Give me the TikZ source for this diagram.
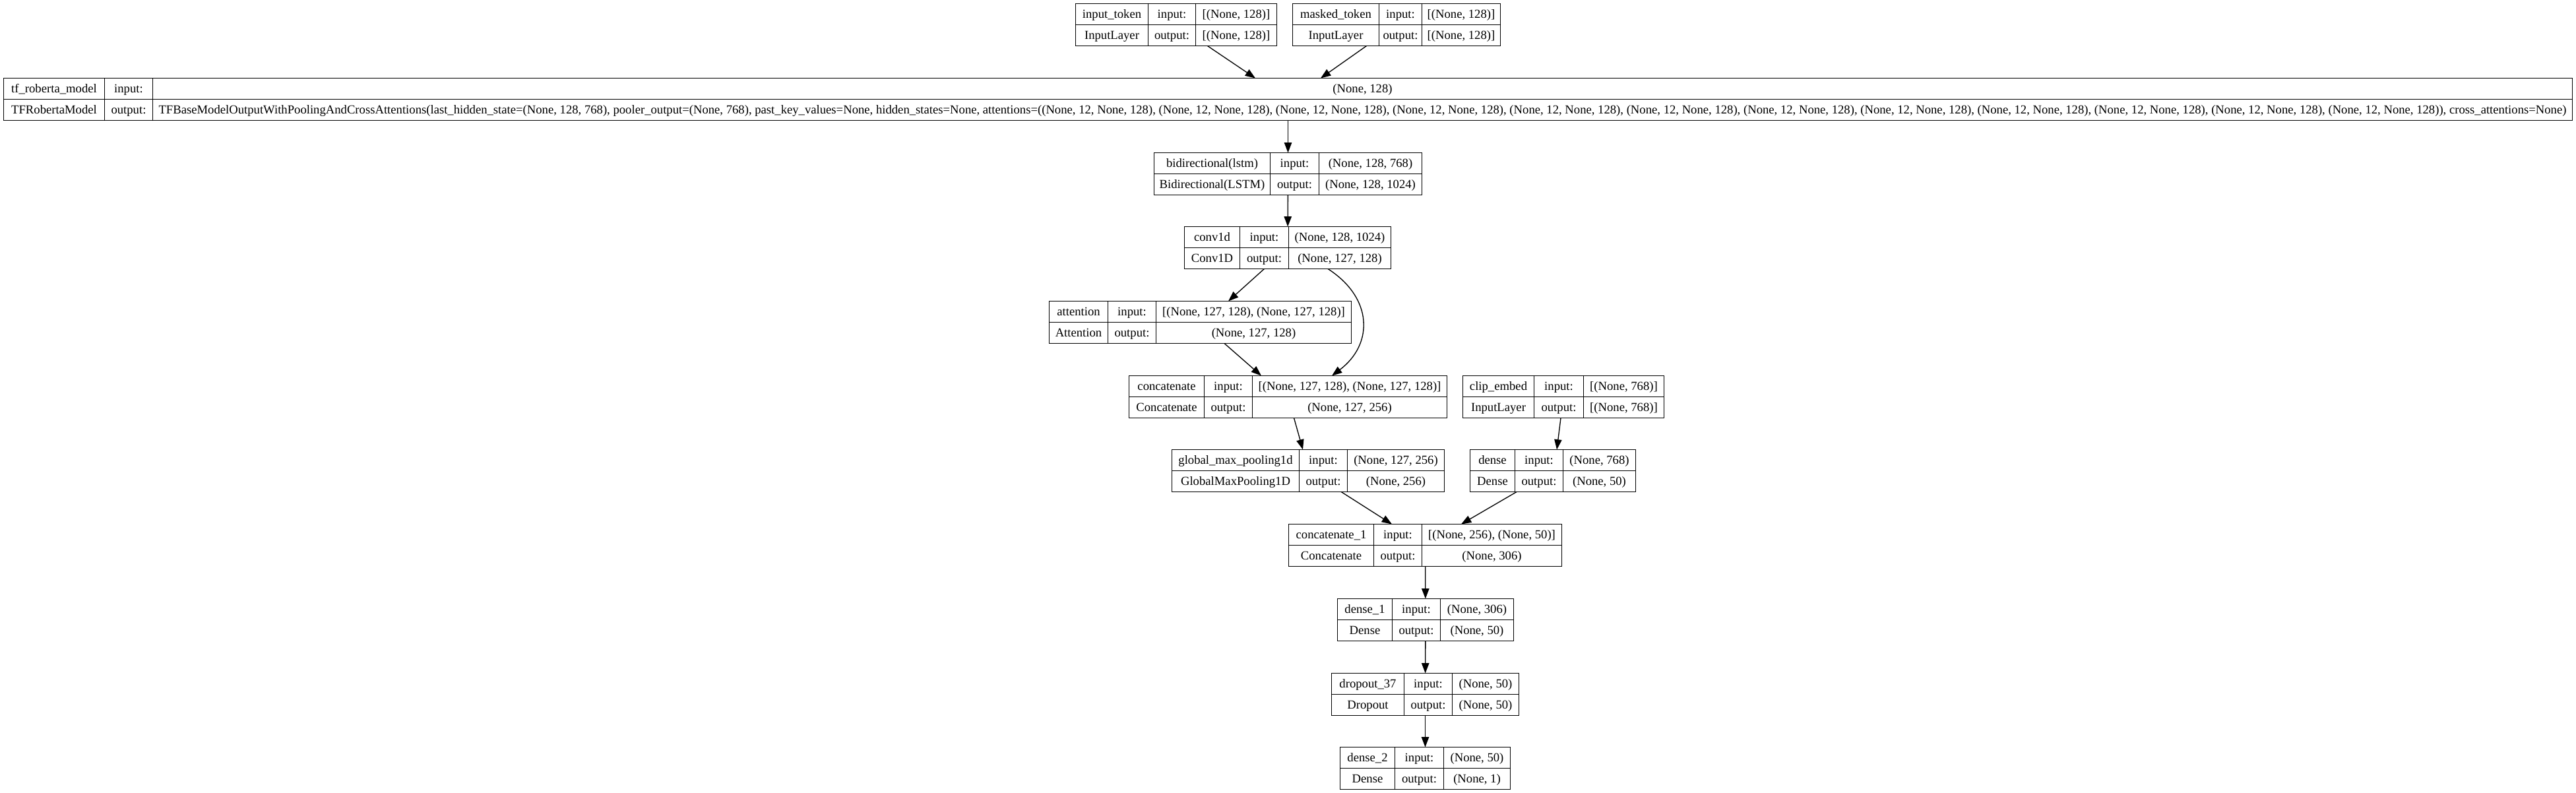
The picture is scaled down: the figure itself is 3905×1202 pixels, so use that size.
\documentclass[tikz,border=0pt]{standalone}
\usepackage{fontspec}
\setmainfont{Liberation Serif}
\usetikzlibrary{arrows.meta}
\tikzset{
  kframe/.style={draw, line width=1pt, inner sep=0pt, outer sep=0pt, rectangle},
  kline/.style={line width=1pt},
  ktext/.style={inner sep=0pt, font=\fontsize{14}{16}\selectfont, text height=9.3pt, text depth=0pt, anchor=center},
  arr/.style={line width=1pt, -{Triangle[length=11.5pt,width=8.5pt]}},
}
\def\kparse#1,#2,#3,#4\relax{%
  \pgfmathsetmacro\kxa{round(#1)+0.5}%
  \pgfmathsetmacro\kxb{round(#2)+0.5}%
  \pgfmathsetmacro\kxc{round(#3)+0.5}%
  \pgfmathsetmacro\kxd{round(#4)+0.5}}
\newcommand\kbox[7]{%
  \kparse#3\relax
  \pgfmathsetmacro\kbT{round(5.3+112.7*#2)+0.5}%
  \pgfmathsetmacro\kbM{\kbT+32}%
  \pgfmathsetmacro\kbB{\kbT+64}%
  \pgfmathsetmacro\kbW{(\kxd-\kxa)*0.75}%
  \node[kframe, minimum width=\kbW pt, minimum height=48pt] (#1) at ({(\kxa+\kxd)/2},\kbM) {};
  \draw[kline] (\kxa,\kbM) -- (\kxd,\kbM) (\kxb,\kbT) -- (\kxb,\kbB) (\kxc,\kbT) -- (\kxc,\kbB);
  \node[ktext] at ({(\kxa+\kxb)/2},{\kbT+16}) {#4};
  \node[ktext] at ({(\kxa+\kxb)/2},{\kbT+48}) {#5};
  \node[ktext] at ({(\kxb+\kxc)/2},{\kbT+16}) {input:};
  \node[ktext] at ({(\kxb+\kxc)/2},{\kbT+48}) {output:};
  \node[ktext] at ({(\kxc+\kxd)/2},{\kbT+16}) {#6};
  \node[ktext] at ({(\kxc+\kxd)/2},{\kbT+48}) {#7};
}
\newcommand\attT{(None, 12, None, 128)}
\begin{document}
\begin{tikzpicture}[x=0.75pt, y=-0.75pt]
\useasboundingbox (0,0) rectangle (3905,1202);

\kbox{intok}{0}{1630,1740,1812,1935}{input\_token}{InputLayer}{[(None, 128)]}{[(None, 128)]}
\kbox{mask}{0}{1959,2090,2155,2274}{masked\_token}{InputLayer}{[(None, 128)]}{[(None, 128)]}
\kbox{roberta}{1}{5,158,231,3899}{tf\_roberta\_model}{TFRobertaModel}{(None, 128)}{TFBaseModelOutputWithPoolingAndCrossAttentions(last\_hidden\_state=(None, 128, 768), pooler\_output=(None, 768), past\_key\_values=None, hidden\_states=None, attentions=(\attT, \attT, \attT, \attT, \attT, \attT, \attT, \attT, \attT, \attT, \attT, \attT), cross\_attentions=None)}
\kbox{bilstm}{2}{1749,1925,1999,2155}{bidirectional(lstm)}{Bidirectional(LSTM)}{(None, 128, 768)}{(None, 128, 1024)}
\kbox{conv}{3}{1795,1879,1953,2108}{conv1d}{Conv1D}{(None, 128, 1024)}{(None, 127, 128)}
\kbox{attn}{4}{1590,1679,1752,2048}{attention}{Attention}{[(None, 127, 128), (None, 127, 128)]}{(None, 127, 128)}
\kbox{concat}{5}{1711,1825,1898,2193}{concatenate}{Concatenate}{[(None, 127, 128), (None, 127, 128)]}{(None, 127, 256)}
\kbox{clip}{5}{2217,2325,2400,2522}{clip\_embed}{InputLayer}{[(None, 768)]}{[(None, 768)]}
\kbox{gmp}{6}{1776,1969,2042,2189}{global\_max\_pooling1d}{GlobalMaxPooling1D}{(None, 127, 256)}{(None, 256)}
\kbox{dense}{6}{2228,2296,2369,2479}{dense}{Dense}{(None, 768)}{(None, 50)}
\kbox{concatb}{7}{1953,2082,2155,2367}{concatenate\_1}{Concatenate}{[(None, 256), (None, 50)]}{(None, 306)}
\kbox{denseb}{8}{2027,2110,2183,2294}{dense\_1}{Dense}{(None, 306)}{(None, 50)}
\kbox{drop}{9}{2018,2128,2201,2302}{dropout\_37}{Dropout}{(None, 50)}{(None, 50)}
\kbox{densec}{10}{2031,2114,2188,2289}{dense\_2}{Dense}{(None, 50)}{(None, 1)}

\coordinate (rob-a) at (1903,0 |- roberta.north);
\coordinate (rob-b) at (2002,0 |- roberta.north);
\coordinate (attn-in) at (1862,0 |- attn.north);
\coordinate (conv-out) at (2013,0 |- conv.south);
\coordinate (concat-a) at (1912,0 |- concat.north);
\coordinate (concat-b) at (2019,0 |- concat.north);
\coordinate (gmp-in) at (1975,0 |- gmp.north);
\coordinate (dense-in) at (2360,0 |- dense.north);
\coordinate (concatb-a) at (2110,0 |- concatb.north);
\coordinate (concatb-b) at (2215,0 |- concatb.north);

\draw[arr] (intok) -- (rob-a);
\draw[arr] (mask) -- (rob-b);
\draw[arr] (roberta.south -| bilstm.north) -- (bilstm.north);
\draw[arr] (bilstm) -- (conv);
\draw[arr] (conv) -- (attn-in);
\draw[arr] (conv-out) .. controls (2082,452) and (2082,522) .. (concat-b);
\draw[arr] (attn) -- (concat-a);
\draw[arr] (concat) -- (gmp-in);
\draw[arr] (clip) -- (dense-in);
\draw[arr] (gmp) -- (concatb-a);
\draw[arr] (dense) -- (concatb-b);
\draw[arr] (concatb) -- (denseb);
\draw[arr] (denseb) -- (drop);
\draw[arr] (drop) -- (densec);
\end{tikzpicture}
\end{document}
